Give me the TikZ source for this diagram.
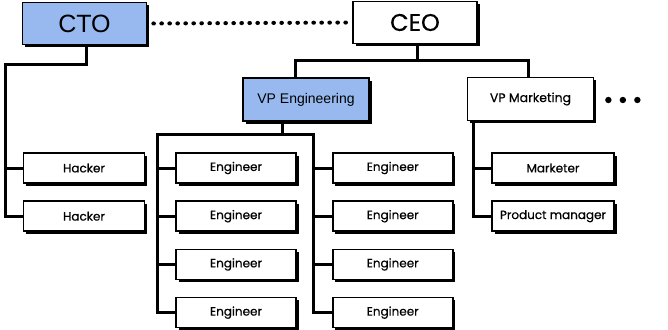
\documentclass[tikz,border=0pt]{standalone}
\usepackage{fontspec}
\setmainfont{Poppins}[FakeBold=0.5]
\newfontfamily\arialfont{Liberation Sans}
\usetikzlibrary{positioning,calc,shadows}
\definecolor{ocBlue}{HTML}{97B9EF}
\definecolor{ocInk}{HTML}{000000}
\definecolor{ocWhite}{HTML}{FFFFFF}
\tikzset{
  oc-box/.style={
    draw=ocInk, line width=1.7pt, fill=ocWhite, inner sep=0pt,
    drop shadow={shadow xshift=2.5pt, shadow yshift=-2.5pt,
      fill=ocInk, opacity=1}
  },
  oc-big/.style={oc-box, minimum width=124pt, minimum height=42pt,
    font=\fontsize{24}{26}\selectfont},
  oc-mid/.style={oc-box, minimum width=126pt, minimum height=43pt,
    font=\fontsize{12.5}{14}\selectfont},
  oc-small/.style={oc-box, minimum width=121pt, minimum height=30pt,
    font=\fontsize{12}{14}\selectfont},
  oc-blue/.style={fill=ocBlue},
  oc-flow/.style={draw=ocInk, line width=3pt},
  oc-dots/.style={draw=ocInk, line width=4pt, line cap=round,
    dash pattern=on 0.6pt off 7.4pt}
}
\begin{document}
\begin{tikzpicture}[x=1pt, y=-1pt, node distance=16.5pt and 35pt]
\useasboundingbox (0,0) rectangle (668,329);
% top level
\node[oc-big, oc-blue, font=\arialfont\fontsize{25}{27}\selectfont] (cto) at (84.5,23.5) {CTO};
\node[oc-big] (ceo) at (415,22.5) {CEO};

% vice presidents
\node[oc-mid, oc-blue, font=\arialfont\fontsize{14}{16}\selectfont] (vpe) at (306,99.5) {VP Engineering};
\node[oc-mid] (vpm) at (530.5,99) {VP Marketing};

% hackers
\node[oc-small] (hk1) at (84,168) {Hacker};
\node[oc-small, below=of hk1] (hk2) {Hacker};

% engineers
\node[oc-small, minimum width=120pt] (el1) at (236,168) {Engineer};
\node[oc-small, minimum width=120pt, below=of el1] (el2) {Engineer};
\node[oc-small, minimum width=120pt, below=of el2] (el3) {Engineer};
\node[oc-small, minimum width=120pt, below=of el3] (el4) {Engineer};
\node[oc-small, minimum width=120pt, right=of el1] (er1) {Engineer};
\node[oc-small, minimum width=120pt, below=of er1] (er2) {Engineer};
\node[oc-small, minimum width=120pt, below=of er2] (er3) {Engineer};
\node[oc-small, minimum width=120pt, below=of er3] (er4) {Engineer};

% marketing
\node[oc-small, minimum width=122pt] (mk1) at (553,168) {Marketer};
\node[oc-small, minimum width=122pt, below=of mk1] (mk2) {Product manager};

% Relations
\draw[oc-dots] (cto.east) ++(6,0) -- (ceo.west);
\foreach \i in {0,1,2}
  \fill[ocInk] ($(vpm.east)+(14+14.5*\i,1)$) circle (3.2pt);

\coordinate (cbus) at ($(ceo.south)+(2,16)$);
\draw[oc-flow] (cbus |- ceo.south) -- (cbus);
\draw[oc-flow] ($(vpe.north)+(-11,0)$) |- (cbus) -| ($(vpm.north)+(-2,0)$);

\draw[oc-flow] ($(cto.south)+(2,0)$) -- ++(0,19) -| ($(hk2.west)+(-17,0)$) -- (hk2.west);
\draw[oc-flow] (hk1.west) -- ++(-18.5,0);

\coordinate (ebus) at ($(vpe.south)+(-24,13)$);
\draw[oc-flow] (ebus |- vpe.south) -- (ebus);
\draw[oc-flow] (el4.west) -- ++(-18,0) |- (ebus) -| ($(er4.west)+(-18,0)$) -- (er4.west);
\foreach \n in {1,2,3} {
  \draw[oc-flow] (el\n.west) -- ++(-19.5,0);
  \draw[oc-flow] (er\n.west) -- ++(-19.5,0);
}

\draw[oc-flow] (mk2.west) -- ++(-18,0) coordinate (mspine) -- (mspine |- vpm.south);
\draw[oc-flow] (mk1.west) -- ++(-19.5,0);
\end{tikzpicture}
\end{document}
